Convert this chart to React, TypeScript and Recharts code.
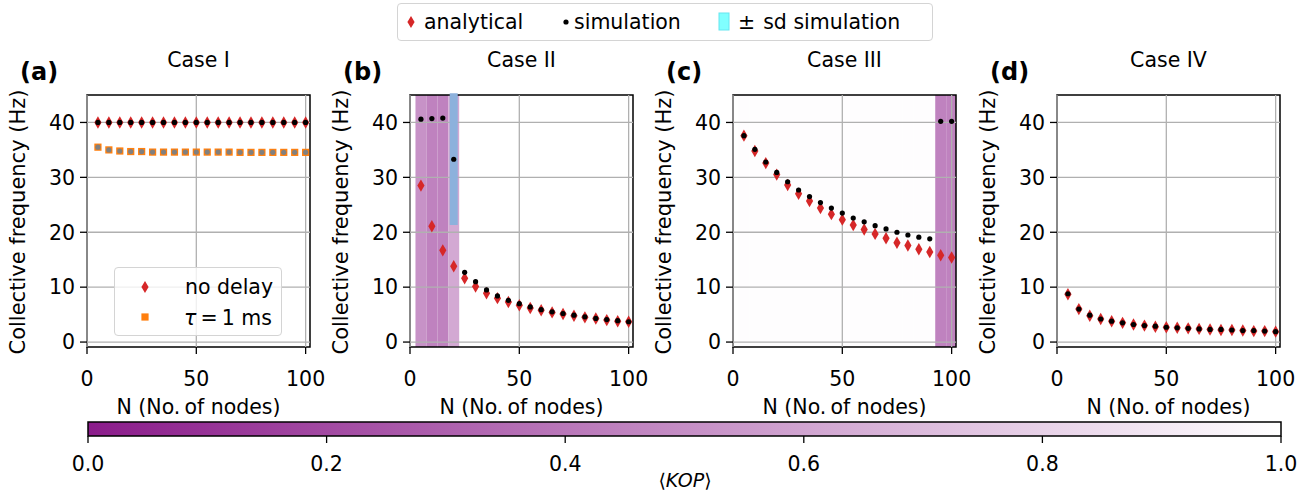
import { ComposedChart, Scatter, XAxis, YAxis, ReferenceArea, ReferenceLine, ErrorBar } from "recharts";

const nodes = [5, 10, 15, 20, 25, 30, 35, 40, 45, 50, 55, 60, 65, 70, 75, 80, 85, 90, 95, 100];
const freqTicks = [0, 10, 20, 30, 40];
const nodeTicks = [0, 50, 100];
const kopTicks = [0, 0.2, 0.4, 0.6, 0.8, 1];

// Case I
const caseIAnalytical = [40, 40, 40, 40, 40, 40, 40, 40, 40, 40, 40, 40, 40, 40, 40, 40, 40, 40, 40, 40];
const caseISimulation = [40, 40, 40, 40, 40, 40, 40, 40, 40, 40, 40, 40, 40, 40, 40, 40, 40, 40, 40, 40];
const caseIDelay = [35.5, 35.0, 34.8, 34.7, 34.7, 34.6, 34.6, 34.6, 34.6, 34.6, 34.6, 34.6, 34.6, 34.55, 34.55, 34.55, 34.55, 34.55, 34.55, 34.55];
const caseIDelaySim = [35.5, 35.0, 34.8, 34.7, 34.7, 34.6, 34.6, 34.6, 34.6, 34.6, 34.6, 34.6, 34.6, 34.55, 34.55, 34.55, 34.55, 34.55, 34.55, 34.55];

// Case II
const caseIIAnalytical = [28.5, 21.1, 16.7, 13.8, 11.6, 10.1, 8.9, 8.0, 7.3, 6.7, 6.2, 5.8, 5.4, 5.1, 4.8, 4.5, 4.3, 4.0, 3.8, 3.7];
const caseIISimulation = [40.6, 40.7, 40.8, 33.3, 12.7, 11.0, 9.5, 8.4, 7.6, 7.0, 6.4, 5.9, 5.5, 5.2, 4.9, 4.6, 4.3, 4.1, 3.9, 3.7];
const caseIISd = [0, 0, 0, 12, 0, 0, 0, 0, 0, 0, 0, 0, 0, 0, 0, 0, 0, 0, 0, 0];
const caseIIKop = [0.52, 0.45, 0.45, 0.62, 1, 1, 1, 1, 1, 1, 1, 1, 1, 1, 1, 1, 1, 1, 1, 1];

// Case III
const caseIIIAnalytical = [37.6, 34.8, 32.6, 30.5, 28.6, 27.0, 25.7, 24.4, 23.3, 22.3, 21.3, 20.5, 19.7, 18.9, 18.1, 17.6, 16.9, 16.4, 15.8, 15.4];
const caseIIISimulation = [37.6, 35.1, 32.8, 30.9, 29.2, 27.7, 26.5, 25.4, 24.4, 23.5, 22.6, 21.9, 21.2, 20.6, 20.0, 19.5, 19.1, 18.8, 40.2, 40.2];
const caseIIIKop = [0.99, 0.99, 0.99, 0.99, 0.99, 0.99, 0.99, 0.99, 0.99, 0.99, 0.99, 0.99, 0.99, 0.99, 0.99, 0.99, 0.99, 0.99, 0.45, 0.45];

// Case IV
const caseIVAnalytical = [8.7, 6.0, 4.8, 4.2, 3.8, 3.5, 3.2, 3.0, 2.8, 2.7, 2.6, 2.5, 2.4, 2.3, 2.2, 2.2, 2.1, 2.0, 2.0, 1.9];
const caseIVSimulation = [8.8, 6.0, 4.9, 4.2, 3.8, 3.5, 3.2, 3.0, 2.9, 2.7, 2.6, 2.5, 2.4, 2.3, 2.3, 2.2, 2.1, 2.1, 2.0, 1.9];

const FONT = "'DejaVu Sans', sans-serif";
const FS = 20.5;
const RED = "#d62728";
const ORANGE = "#ff7f0e";
const GRID = "#b0b0b0";
const PURPLE = [139, 28, 139];

const kopColor = (k: number) => {
  const r = Math.round(PURPLE[0] + (255 - PURPLE[0]) * k);
  const g = Math.round(PURPLE[1] + (255 - PURPLE[1]) * k);
  const b = Math.round(PURPLE[2] + (255 - PURPLE[2]) * k);
  return `rgb(${r},${g},${b})`;
};

const Diamond = (props: any) => {
  const { cx, cy } = props;
  if (cx == null || cy == null || isNaN(cy)) return <g />;
  return <polygon points={`${cx},${cy - 6.2} ${cx + 3.6},${cy} ${cx},${cy + 6.2} ${cx - 3.6},${cy}`} fill={RED} />;
};
const Dot = (color: string) => (props: any) => {
  const { cx, cy } = props;
  if (cx == null || cy == null || isNaN(cy)) return <g />;
  return <circle cx={cx} cy={cy} r={2.6} fill={color} />;
};
const Square = (props: any) => {
  const { cx, cy } = props;
  if (cx == null || cy == null || isNaN(cy)) return <g />;
  return <rect x={cx - 3.6} y={cy - 3.6} width={7.2} height={7.2} fill={ORANGE} />;
};
const Nothing = () => <g />;

interface PanelSpec {
  tag: string;
  title: string;
  left: number;
  analytical: number[];
  simulation: number[];
  delay?: number[];
  delaySim?: number[];
  sd?: number[];
  kop?: number[];
}

const panels: PanelSpec[] = [
  { tag: "(a)", title: "Case I", left: 87, analytical: caseIAnalytical, simulation: caseISimulation, delay: caseIDelay, delaySim: caseIDelaySim },
  { tag: "(b)", title: "Case II", left: 410, analytical: caseIIAnalytical, simulation: caseIISimulation, sd: caseIISd, kop: caseIIKop },
  { tag: "(c)", title: "Case III", left: 733, analytical: caseIIIAnalytical, simulation: caseIIISimulation, kop: caseIIIKop },
  { tag: "(d)", title: "Case IV", left: 1057, analytical: caseIVAnalytical, simulation: caseIVSimulation },
];

const PW = 223;
const PH = 252;
const PTOP = 95;
const X_MAX = 102;

const txt = (x: number, y: number, extra: any = {}): any => ({
  position: "absolute",
  left: x,
  top: y,
  transform: "translate(-50%, -50%)",
  fontFamily: FONT,
  fontSize: FS,
  color: "#000",
  whiteSpace: "nowrap",
  lineHeight: 1,
  ...extra,
});

function Panel({ p }: { p: PanelSpec }) {
  const rows = nodes.map((n, i) => ({
    n,
    ana: p.analytical[i],
    sim: p.simulation[i],
    delay: p.delay ? p.delay[i] : undefined,
    delaySim: p.delaySim ? p.delaySim[i] : undefined,
    sd: p.sd ? p.sd[i] : 0,
  }));
  const tick = { fill: "#000", fontSize: FS, fontFamily: FONT };
  return (
    <>
      <div style={txt(p.left + PW / 2, 60)}>{p.title}</div>
      <div style={txt(p.left - 67, 72, { transform: "translate(0, -50%)", fontWeight: "bold", fontSize: 24 })}>{p.tag}</div>
      <div style={txt(p.left - 69, 222, { transform: "translate(-50%, -50%) rotate(-90deg)", fontSize: 21 })}>Collective frequency (Hz)</div>
      <div style={txt(p.left + PW / 2, 407)}>N (No.&#8201;of nodes)</div>
      <div style={{ position: "absolute", left: p.left - 80, top: PTOP - 10 }}>
        <ComposedChart width={80 + PW + 30} height={10 + PH + 60} data={rows} margin={{ top: 10, right: 30, bottom: 0, left: 0 }}>
          <XAxis
            dataKey="n"
            type="number"
            domain={[0, X_MAX]}
            ticks={nodeTicks}
            allowDataOverflow
            height={60}
            axisLine={false}
            tickSize={7}
            tickMargin={17}
            tick={tick}
            tickLine={{ stroke: "#000", strokeWidth: 1.3 }}
          />
          <YAxis
            type="number"
            domain={[-0.9, 45]}
            ticks={freqTicks}
            allowDataOverflow
            width={80}
            axisLine={false}
            tickSize={7}
            tickMargin={5}
            tick={tick}
            tickLine={{ stroke: "#000", strokeWidth: 1.3 }}
          />
          {p.kop &&
            nodes.map((n, i) =>
              p.kop![i] < 1 ? (
                <ReferenceArea
                  key={`kop-${n}`}
                  x1={n - 2.5}
                  x2={Math.min(n + 2.5, X_MAX)}
                  y1={-0.9}
                  y2={45}
                  fill={kopColor(p.kop![i])}
                  fillOpacity={1}
                  stroke="none"
                />
              ) : null
            )}
          {freqTicks.map((t) => (
            <ReferenceLine key={`gy-${t}`} y={t} stroke={GRID} strokeWidth={1.3} />
          ))}
          {nodeTicks.map((t) => (
            <ReferenceLine key={`gx-${t}`} x={t} stroke={GRID} strokeWidth={1.3} />
          ))}
          {p.sd && (
            <Scatter dataKey="sim" shape={Nothing} isAnimationActive={false}>
              <ErrorBar dataKey="sd" direction="y" width={0} strokeWidth={8} stroke="#8db1dc" />
            </Scatter>
          )}
          {p.delay && <Scatter dataKey="delay" shape={Square} isAnimationActive={false} />}
          {p.delaySim && <Scatter dataKey="delaySim" shape={Dot("#808080")} isAnimationActive={false} />}
          <Scatter dataKey="ana" shape={Diamond} isAnimationActive={false} />
          <Scatter dataKey="sim" shape={Dot("#000")} isAnimationActive={false} />
          <ReferenceArea x1={0} x2={X_MAX} y1={-0.9} y2={45} fill="none" stroke="#000" strokeWidth={1.5} />
        </ComposedChart>
      </div>
    </>
  );
}

function CaseILegend() {
  return (
    <div
      style={{
        position: "absolute",
        left: 114,
        top: 267,
        width: 168,
        height: 69,
        boxSizing: "border-box",
        border: "1.3px solid #d4d4d4",
        borderRadius: 4,
        background: "rgba(255,255,255,0.8)",
      }}
    >
      <svg style={{ position: "absolute", left: 24, top: 11 }} width={12} height={16}>
        <polygon points="6,2 9.6,8 6,14 2.4,8" fill={RED} />
      </svg>
      <div style={txt(70, 19, { transform: "translate(0, -50%)" })}>no delay</div>
      <svg style={{ position: "absolute", left: 24, top: 43 }} width={12} height={12}>
        <rect x={2.4} y={2.4} width={7.2} height={7.2} fill={ORANGE} />
      </svg>
      <div style={txt(69, 50, { transform: "translate(0, -50%)" })}>
        <i>τ</i>&#8201;=&#8201;1 ms
      </div>
    </div>
  );
}

function TopLegend() {
  return (
    <div
      style={{
        position: "absolute",
        left: 397,
        top: 3,
        width: 536,
        height: 38,
        boxSizing: "border-box",
        border: "1.3px solid #d4d4d4",
        borderRadius: 4,
        background: "#fff",
      }}
    >
      <svg style={{ position: "absolute", left: 7, top: 10 }} width={12} height={16}>
        <polygon points="6,2 9.6,8 6,14 2.4,8" fill={RED} />
      </svg>
      <div style={txt(26, 18, { transform: "translate(0, -50%)" })}>analytical</div>
      <svg style={{ position: "absolute", left: 162, top: 12 }} width={12} height={12}>
        <circle cx={6} cy={6} r={2.6} fill="#000" />
      </svg>
      <div style={txt(176, 18, { transform: "translate(0, -50%)" })}>simulation</div>
      <svg style={{ position: "absolute", left: 320, top: 8 }} width={14} height={20}>
        <rect x={1} y={1} width={10} height={17} fill="#80ffff" stroke="#66e6f0" strokeWidth={1} />
      </svg>
      <div style={txt(340, 18, { transform: "translate(0, -50%)" })}>
        ±<span style={{ marginLeft: 8 }}>sd simulation</span>
      </div>
    </div>
  );
}

function ColorBar() {
  const rows = kopTicks.map((k) => ({ k, v: 0.5 }));
  const left = 88;
  const width = 1193;
  return (
    <div style={{ position: "absolute", left: left - 20, top: 420 }}>
      <ComposedChart width={width + 40} height={2 + 14 + 50} data={rows} margin={{ top: 2, right: 20, bottom: 0, left: 20 }}>
        <XAxis
          dataKey="k"
          type="number"
          domain={[0, 1]}
          ticks={kopTicks}
          tickFormatter={(v: number) => v.toFixed(1)}
          height={50}
          axisLine={false}
          tickSize={7}
          tickMargin={13}
          tick={{ fill: "#000", fontSize: FS, fontFamily: FONT }}
          tickLine={{ stroke: "#000", strokeWidth: 1.3 }}
        />
        <YAxis hide type="number" dataKey="v" domain={[0, 1]} allowDataOverflow />
        <ReferenceArea
          x1={0}
          x2={1}
          y1={0}
          y2={1}
          ifOverflow="visible"
          fill="url(#kopGrad)"
          fillOpacity={1}
          stroke="#000"
          strokeWidth={1.5}
        />
      </ComposedChart>
    </div>
  );
}

export default function App() {
  return (
    <div style={{ position: "absolute", left: 0, top: 0, width: 1314, height: 494, background: "#fff", overflow: "hidden", fontFamily: FONT }}>
      <svg width={1} height={1} style={{ position: "absolute", left: 0, top: 0 }}>
        <defs>
          <linearGradient id="kopGrad" x1="0" x2="1" y1="0" y2="0">
            <stop offset="0%" stopColor={kopColor(0)} />
            <stop offset="50%" stopColor={kopColor(0.5)} />
            <stop offset="100%" stopColor={kopColor(1)} />
          </linearGradient>
        </defs>
      </svg>
      {panels.map((p) => (
        <Panel key={p.tag} p={p} />
      ))}
      <CaseILegend />
      <TopLegend />
      <ColorBar />
      <div style={txt(685, 480, { fontSize: 19 })}>
        ⟨<i>KOP</i>⟩
      </div>
    </div>
  );
}
